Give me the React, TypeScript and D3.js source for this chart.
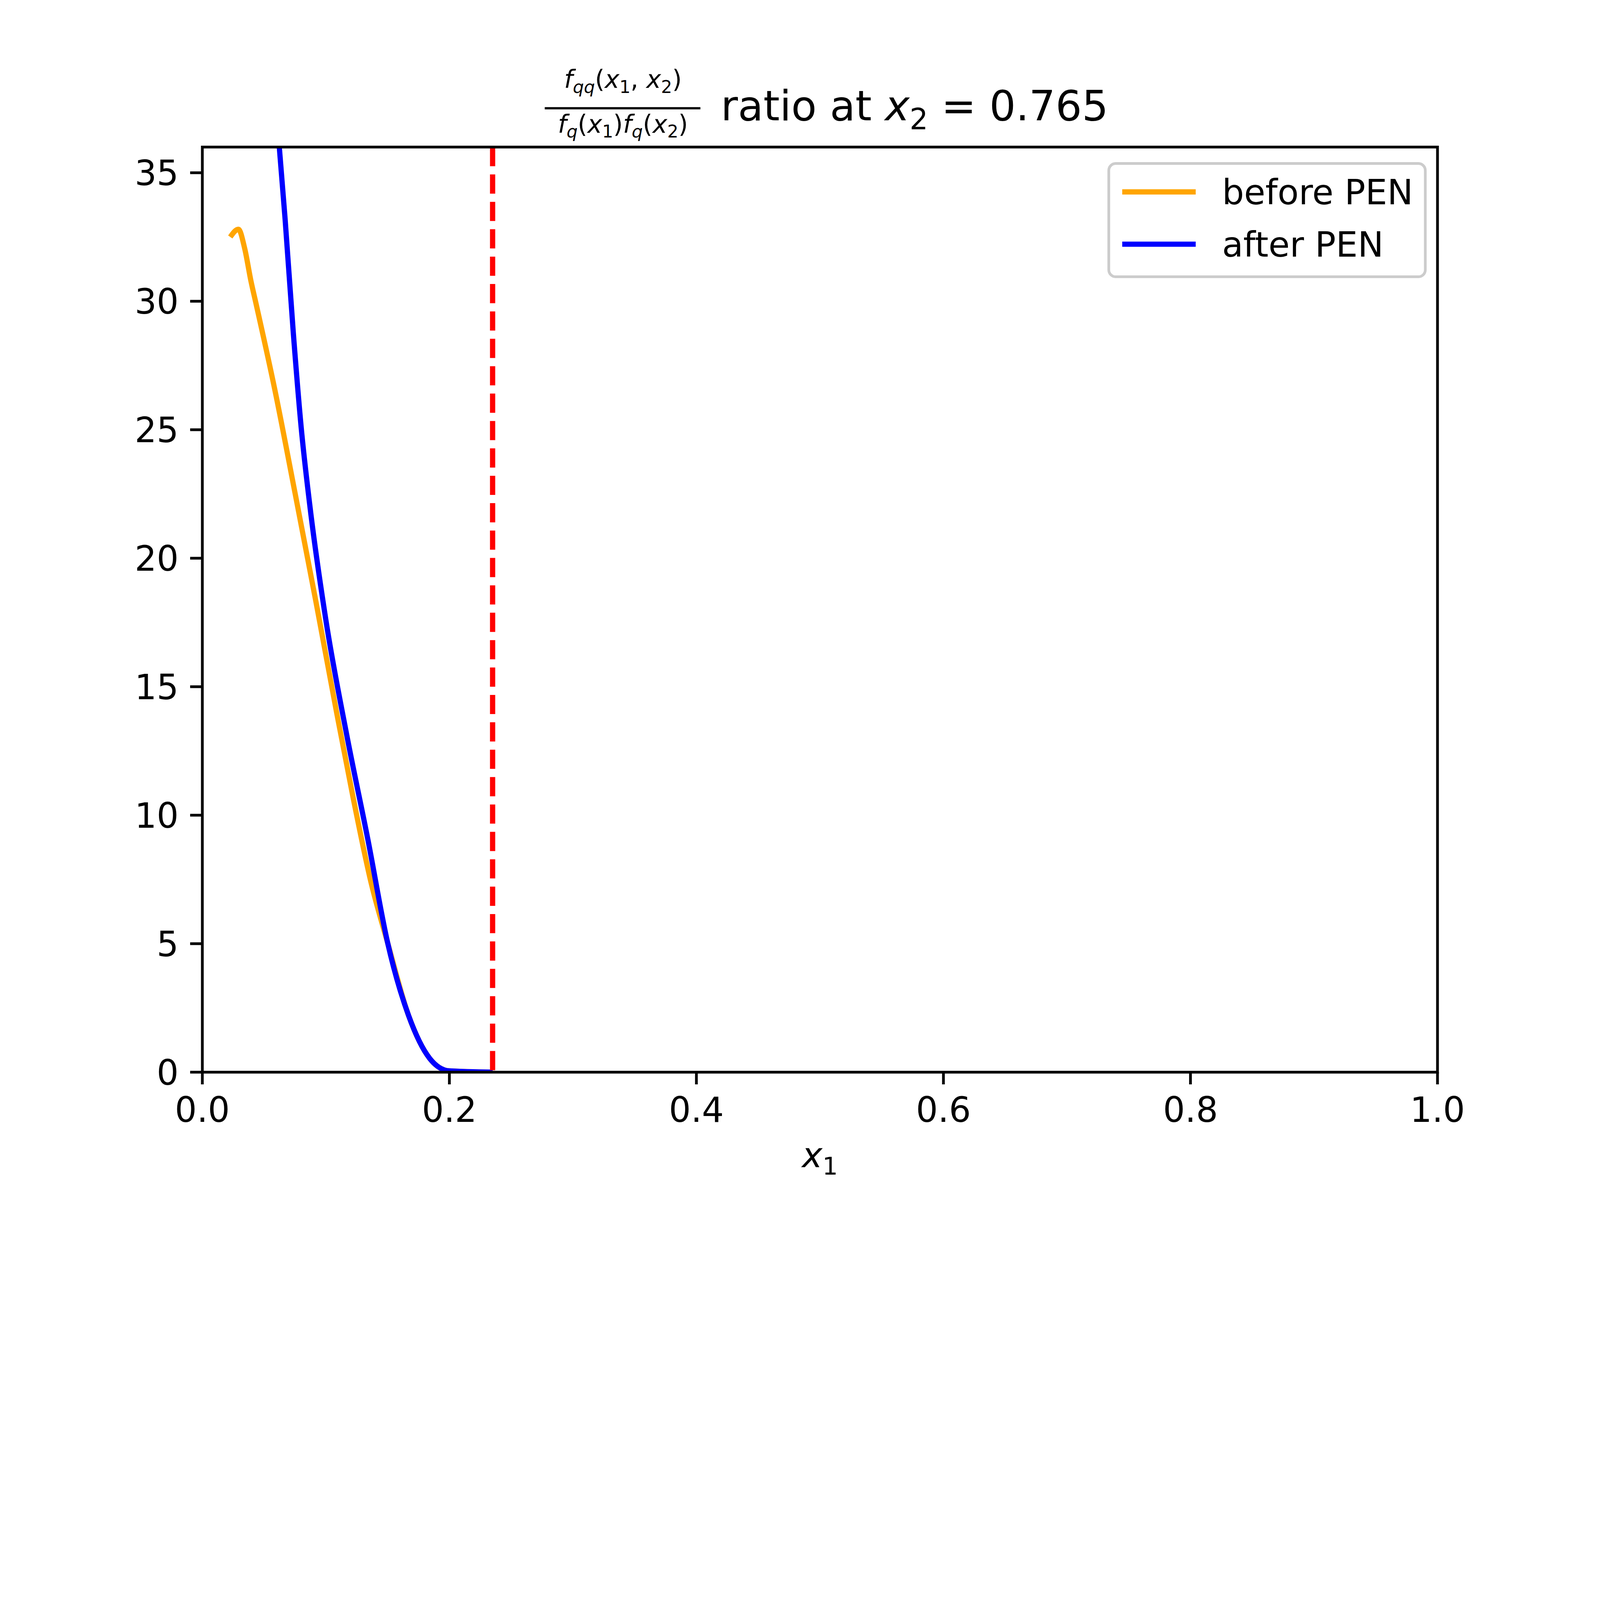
import * as d3 from 'd3';

const beforeX = [0.0226, 0.0292, 0.0343, 0.0393, 0.0435, 0.0585, 0.0752, 0.092, 0.1087, 0.122, 0.137, 0.150, 0.167, 0.184, 0.2, 0.235];
const beforeY = [32.5, 32.8, 32.05, 30.8, 29.9, 26.6, 22.5, 18.3, 14.0, 10.7, 7.3, 5.04, 2.2, 0.54, 0.05, 0.0];
const afterX = [0.0618, 0.067, 0.0736, 0.080, 0.0869, 0.100, 0.117, 0.134, 0.150, 0.167, 0.184, 0.2, 0.235];
const afterY = [36.3, 33.2, 28.8, 25.1, 22.1, 17.6, 13.1, 9.06, 5.04, 2.2, 0.54, 0.05, 0.0];
const cutX = 0.235;
const xTicks = [0, 0.2, 0.4, 0.6, 0.8, 1.0];
const yTicks = [0, 5, 10, 15, 20, 25, 30, 35];

const W = 6400, H = 4800;
const L = 800, R = 5760, T = 578, B = 4293;
const FS = 139;
const font = 'DejaVu Sans';

export default function App() {
  const x = d3.scaleLinear().domain([0, 1]).range([L, R]);
  const y = d3.scaleLinear().domain([0, 36]).range([B, T]);
  const line = d3.line<[number, number]>().x(d => x(d[0])).y(d => y(d[1])).curve(d3.curveMonotoneX);
  const before = beforeX.map((v, i) => [v, beforeY[i]] as [number, number]);
  const after = afterX.map((v, i) => [v, afterY[i]] as [number, number]);

  return (
    <svg viewBox={`0 0 ${W} ${H}`} width="100%" style={{ display: 'block', fontFamily: font, maxWidth: W }}>
      <rect width={W} height={H} fill="#fff" />
      <defs>
        <clipPath id="plot"><rect x={L} y={T} width={R - L} height={B - T} /></clipPath>
      </defs>
      <g clipPath="url(#plot)" fill="none" strokeWidth={21}>
        <path d={line(before) ?? ''} stroke="orange" />
        <path d={line(after) ?? ''} stroke="blue" />
        <line x1={x(cutX)} x2={x(cutX)} y1={T} y2={B} stroke="red" strokeDasharray="77 33" />
      </g>
      <rect x={L} y={T} width={R - L} height={B - T} fill="none" stroke="#000" strokeWidth={11} />
      {xTicks.map(t => (
        <g key={'x' + t}>
          <line x1={x(t)} x2={x(t)} y1={B} y2={B + 49} stroke="#000" strokeWidth={11} />
          <text x={x(t)} y={B + 200} textAnchor="middle" fontSize={FS}>{t.toFixed(1)}</text>
        </g>
      ))}
      {yTicks.map(t => (
        <g key={'y' + t}>
          <line x1={L} x2={L - 49} y1={y(t)} y2={y(t)} stroke="#000" strokeWidth={11} />
          <text x={L - 95} y={y(t) + 50} textAnchor="end" fontSize={FS}>{t}</text>
        </g>
      ))}
      <text x={(L + R) / 2} y={4674} textAnchor="middle" fontSize={FS}>
        <tspan fontStyle="italic">x</tspan><tspan fontSize={97} dy={30}>1</tspan>
      </text>
      {/* title */}
      <g fontSize={100}>
        <text x={2489} y={340} textAnchor="middle">
          <tspan fontStyle="italic">f</tspan><tspan fontStyle="italic" fontSize={70} dy={20}>qq</tspan>
          <tspan dy={-20}>(</tspan><tspan fontStyle="italic">x</tspan><tspan fontSize={70} dy={20}>1</tspan>
          <tspan dy={-20}>, </tspan><tspan fontStyle="italic">x</tspan><tspan fontSize={70} dy={20}>2</tspan>
          <tspan dy={-20}>)</tspan>
        </text>
        <line x1={2175} x2={2800} y1={422} y2={422} stroke="#000" strokeWidth={9} />
        <text x={2489} y={520} textAnchor="middle">
          <tspan fontStyle="italic">f</tspan><tspan fontStyle="italic" fontSize={70} dy={20}>q</tspan>
          <tspan dy={-20}>(</tspan><tspan fontStyle="italic">x</tspan><tspan fontSize={70} dy={20}>1</tspan>
          <tspan dy={-20}>)</tspan><tspan fontStyle="italic">f</tspan><tspan fontStyle="italic" fontSize={70} dy={20}>q</tspan>
          <tspan dy={-20}>(</tspan><tspan fontStyle="italic">x</tspan><tspan fontSize={70} dy={20}>2</tspan>
          <tspan dy={-20}>)</tspan>
        </text>
      </g>
      <text x={2882} y={471} fontSize={167}>
        ratio at <tspan fontStyle="italic">x</tspan><tspan fontSize={117} dy={35}>2</tspan><tspan dy={-35}> = 0.765</tspan>
      </text>
      {/* legend */}
      <rect x={4440} y={644} width={1271} height={455} rx={28} fill="#fff" fillOpacity={0.8} stroke="#ccc" strokeWidth={11} />
      <line x1={4494} x2={4789} y1={758} y2={758} stroke="orange" strokeWidth={21} />
      <text x={4895} y={808} fontSize={FS}>before PEN</text>
      <line x1={4494} x2={4789} y1={968} y2={968} stroke="blue" strokeWidth={21} />
      <text x={4895} y={1018} fontSize={FS}>after PEN</text>
    </svg>
  );
}
